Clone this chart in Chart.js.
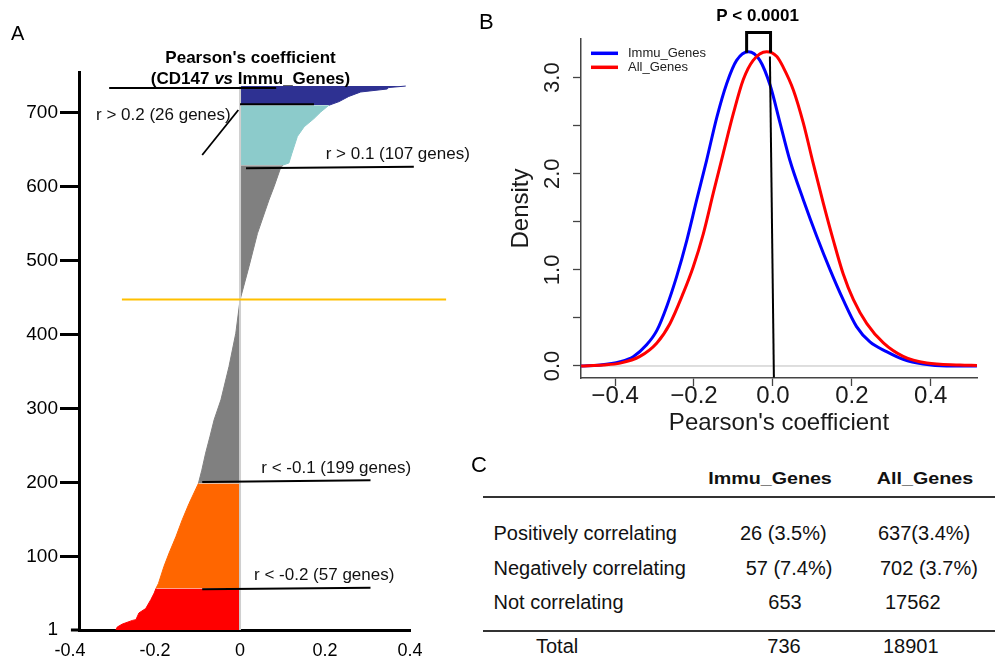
<!DOCTYPE html>
<html>
<head>
<meta charset="utf-8">
<script src="https://cdn.jsdelivr.net/npm/chart.js@4/dist/chart.umd.min.js"></script>
<style>
html,body{margin:0;padding:0;background:#fff;}
body{width:995px;height:662px;position:relative;overflow:hidden;font-family:"Liberation Sans",Arial,Helvetica,sans-serif;color:#000;}
.box{position:absolute;}
.plabel{position:absolute;line-height:1;white-space:nowrap;}
.t{position:absolute;white-space:nowrap;font-size:20px;line-height:20px;color:#111;}
.h{position:absolute;white-space:nowrap;font-size:16px;line-height:16px;font-weight:bold;color:#111;}
.rule{position:absolute;left:483px;width:512px;height:2.5px;background:#333;}
</style>
</head>
<body>
<div id="wa" class="box" style="left:0;top:0;width:480px;height:662px"><canvas id="ca"></canvas></div>
<div id="wb" class="box" style="left:470px;top:0;width:525px;height:440px"><canvas id="cb"></canvas></div>
<div class="plabel" style="left:11px;top:23px;font-size:20px">A</div>
<div class="plabel" style="left:479px;top:11px;font-size:22px">B</div>
<div class="plabel" style="left:471px;top:454px;font-size:22px">C</div>
<div id="tbl"></div>
<script>
// ---------------- Panel A data (rank of gene vs Pearson's coefficient) ----------------
const rankRed    = [1, 5, 9, 14, 15, 24, 30, 42, 51, 57];
const coefRed    = [-0.292, -0.289, -0.277, -0.253, -0.245, -0.238, -0.222, -0.210, -0.202, -0.198];
const rankOrange = [57, 64, 87, 105, 127, 150, 172, 199];
const coefOrange = [-0.198, -0.192, -0.179, -0.167, -0.151, -0.136, -0.120, -0.098];
const rankGray   = [199, 217, 240, 262, 285, 312, 357, 402, 447, 492, 537, 582, 600, 623, 629];
const coefGray   = [-0.098, -0.090, -0.081, -0.071, -0.061, -0.045, -0.026, -0.010, 0.000, 0.021, 0.041, 0.068, 0.080, 0.094, 0.100];
const rankCyan   = [629, 632, 645, 668, 681, 692, 701, 710];
const coefCyan   = [0.100, 0.115, 0.122, 0.135, 0.151, 0.174, 0.190, 0.209];
const rankNavy   = [710, 715, 722, 728, 732, 734, 736];
const coefNavy   = [0.209, 0.233, 0.256, 0.284, 0.346, 0.350, 0.390];
const yTickValuesA = [1, 100, 200, 300, 400, 500, 600, 700];
const xTickValuesA = [-0.4, -0.2, 0, 0.2, 0.4];
const xTickLabelsA = ['-0.4', '-0.2', '0', '0.2', '0.4'];
const titleA = ["Pearson's coefficient", '(CD147 ', 'vs', ' Immu_Genes)'];
const annoTextA = ['r > 0.2 (26 genes)', 'r > 0.1 (107 genes)', 'r < -0.1 (199 genes)', 'r < -0.2 (57 genes)'];

// ---------------- Panel B data (density curves) ----------------
const coefImmu = [-0.486, -0.438, -0.387, -0.354, -0.320, -0.294, -0.269, -0.244, -0.218, -0.193, -0.168, -0.142, -0.117, -0.092, -0.062, -0.033, -0.007, 0.018, 0.043, 0.077, 0.111, 0.145, 0.178, 0.212, 0.246, 0.288, 0.330, 0.381, 0.44, 0.517];
const densImmu = [0, 0.01, 0.045, 0.097, 0.22, 0.37, 0.62, 0.93, 1.31, 1.73, 2.14, 2.59, 2.94, 3.18, 3.27, 3.18, 2.92, 2.53, 2.14, 1.73, 1.35, 1.00, 0.69, 0.41, 0.25, 0.15, 0.07, 0.02, 0.0, 0];
const coefAll  = [-0.486, -0.43, -0.387, -0.337, -0.294, -0.261, -0.227, -0.202, -0.176, -0.151, -0.126, -0.100, -0.075, -0.050, -0.016, 0.010, 0.026, 0.052, 0.077, 0.102, 0.128, 0.153, 0.178, 0.204, 0.238, 0.280, 0.330, 0.390, 0.474, 0.517];
const densAll  = [0, 0.01, 0.03, 0.10, 0.24, 0.44, 0.76, 1.03, 1.38, 1.80, 2.21, 2.63, 2.98, 3.18, 3.27, 3.22, 3.11, 2.87, 2.53, 2.11, 1.69, 1.31, 0.96, 0.69, 0.44, 0.24, 0.10, 0.03, 0.01, 0.005];
const seriesNamesB = ['Immu_Genes', 'All_Genes'];
const xTickValuesB = [-0.4, -0.2, 0, 0.2, 0.4];
const xTickLabelsB = ['\u22120.4', '\u22120.2', '0.0', '0.2', '0.4'];
const yTickValuesB = [0, 0.5, 1, 1.5, 2, 2.5, 3];
const yTickLabelsB = ['0.0', '', '1.0', '', '2.0', '', '3.0'];
const pValueText = 'P < 0.0001';

// ---------------- Panel C data (table) ----------------
const tableColumns = ['Immu_Genes', 'All_Genes'];
const tableRows    = ['Positively correlating', 'Negatively correlating', 'Not correlating'];
const immuCounts   = ['26 (3.5%)', '57 (7.4%)', '653'];
const allCounts    = ['637(3.4%)', '702 (3.7%)', '17562'];
const totalRow     = ['Total', '736', '18901'];

const FONT = '"Liberation Sans", Arial, Helvetica, sans-serif';
Chart.defaults.font.family = FONT;
Chart.defaults.color = '#000';

function zip(xs, ys) { return xs.map((v, i) => ({x: ys[i], y: v})); }
function zipXY(xs, ys) { return xs.map((v, i) => ({x: v, y: ys[i]})); }
function setTicks(values) { return axis => { axis.ticks = values.map(v => ({value: v})); }; }

// ---------------- Panel A chart ----------------
function areaSet(ranks, coefs, color) {
  return {data: zip(ranks, coefs), backgroundColor: color, borderColor: color, borderWidth: 1,
          pointRadius: 0, fill: 'origin', tension: 0};
}
const annoA = {
  id: 'annoA',
  afterDatasetsDraw(chart) {
    const {ctx, scales: {x, y}} = chart;
    ctx.save();
    ctx.strokeStyle = '#cfcfcf'; ctx.lineWidth = 2;
    ctx.beginPath(); ctx.moveTo(x.getPixelForValue(0), y.getPixelForValue(1));
    ctx.lineTo(x.getPixelForValue(0), y.getPixelForValue(736)); ctx.stroke();
    ctx.restore();
  },
  afterDraw(chart) {
    const {ctx, chartArea: a, scales: {x, y}} = chart;
    const P = (r, k) => [x.getPixelForValue(r), y.getPixelForValue(k)];
    ctx.save();
    ctx.strokeStyle = '#000'; ctx.lineWidth = 3;
    ctx.beginPath(); ctx.moveTo(x.getPixelForValue(-0.398), a.bottom); ctx.lineTo(a.left, a.bottom); ctx.stroke();
    const seg = (r1, k1, r2, k2, color, w) => {
      const p1 = P(r1, k1), p2 = P(r2, k2);
      ctx.strokeStyle = color; ctx.lineWidth = w;
      ctx.beginPath(); ctx.moveTo(p1[0], p1[1]); ctx.lineTo(p2[0], p2[1]); ctx.stroke();
    };
    seg(-0.308, 733.4, 0.085, 733.4, '#000', 2);
    seg(0, 711.4, 0.174, 711.4, '#000', 2);
    seg(-0.089, 642.9, -0.004, 703.7, '#000', 1.8);
    seg(0.014, 625, 0.409, 627, '#000', 2);
    seg(-0.089, 201, 0.307, 203.3, '#000', 2);
    seg(-0.089, 56, 0.307, 58.2, '#000', 2);
    seg(-0.278, 447.6, 0.485, 447.6, '#FFC000', 2);
    ctx.fillStyle = '#111';
    ctx.font = '17px ' + FONT; ctx.textAlign = 'left'; ctx.textBaseline = 'alphabetic';
    const txt = (s, r, k) => { const p = P(r, k); ctx.fillText(s, p[0], p[1]); };
    txt(annoTextA[0], -0.339, 690.2);
    txt(annoTextA[1], 0.2016, 637.1);
    txt(annoTextA[2], 0.050, 212.8);
    txt(annoTextA[3], 0.033, 68.6);
    ctx.fillStyle = '#000';
    const c = P(0.0247, 767.7);
    ctx.font = 'bold 17px ' + FONT; ctx.textAlign = 'center';
    ctx.fillText(titleA[0], c[0], c[1]);
    const b2 = y.getPixelForValue(738.8);
    const fB = 'bold 17px ' + FONT, fBI = 'italic bold 17px ' + FONT;
    ctx.font = fB; const w1 = ctx.measureText(titleA[1]).width, w3 = ctx.measureText(titleA[3]).width;
    ctx.font = fBI; const w2 = ctx.measureText(titleA[2]).width;
    let sx = c[0] - (w1 + w2 + w3) / 2;
    ctx.textAlign = 'left';
    ctx.font = fB; ctx.fillText(titleA[1], sx, b2); sx += w1;
    ctx.font = fBI; ctx.fillText(titleA[2], sx, b2); sx += w2;
    ctx.font = fB; ctx.fillText(titleA[3], sx, b2);
    ctx.restore();
  }
};
new Chart(document.getElementById('ca'), {
  type: 'line',
  data: {datasets: [
    areaSet(rankRed, coefRed, '#FF0000'),
    areaSet(rankOrange, coefOrange, '#FF6600'),
    areaSet(rankGray, coefGray, '#808080'),
    areaSet(rankCyan, coefCyan, '#8CCBCB'),
    areaSet(rankNavy, coefNavy, '#2E3192')
  ]},
  options: {
    responsive: true, maintainAspectRatio: false, animation: false, indexAxis: 'y',
    layout: {padding: {left: 0, top: 72, right: 70, bottom: 0}},
    plugins: {legend: {display: false}, tooltip: {enabled: false}},
    scales: {
      x: {type: 'linear', position: 'bottom', min: -0.379, max: 0.4, z: 1,
          afterBuildTicks: setTicks(xTickValuesA), afterFit: s => { s.height = 32; },
          grid: {display: false, drawTicks: false},
          border: {display: true, color: '#000', width: 3},
          ticks: {autoSkip: false, maxRotation: 0, padding: 10, color: '#000', font: {size: 18},
                  callback: (v, i) => xTickLabelsA[i]}},
      y: {type: 'linear', position: 'left', min: 1, max: 755, z: 1,
          afterBuildTicks: setTicks(yTickValuesA), afterFit: s => { s.width = 79; },
          grid: {display: true, drawOnChartArea: false, drawTicks: true, tickLength: 19, tickWidth: 3,
                 tickColor: c => (c.tick && c.tick.value === 1) ? 'rgba(0,0,0,0)' : '#000'},
          border: {display: true, color: '#000', width: 3},
          ticks: {autoSkip: false, padding: 2, color: '#000', font: {size: 19}, callback: v => String(v)}}
    }
  },
  plugins: [annoA]
});

// ---------------- Panel B chart ----------------
const annoB = {
  id: 'annoB',
  beforeDatasetsDraw(chart) {
    const {ctx, chartArea: a, scales: {y}} = chart;
    ctx.save(); ctx.strokeStyle = '#bebebe'; ctx.lineWidth = 1;
    const py = y.getPixelForValue(0);
    ctx.beginPath(); ctx.moveTo(a.left, py); ctx.lineTo(a.right, py); ctx.stroke(); ctx.restore();
  },
  afterDraw(chart) {
    const {ctx, chartArea: a, scales: {x, y}} = chart;
    ctx.save();
    ctx.font = '13px ' + FONT; ctx.textAlign = 'left'; ctx.textBaseline = 'middle';
    chart.data.datasets.forEach((ds, i) => {
      const ly = a.top + 14.3 + i * 14;
      ctx.strokeStyle = ds.borderColor; ctx.lineWidth = 3.5;
      ctx.beginPath(); ctx.moveTo(a.left + 10, ly); ctx.lineTo(a.left + 37, ly); ctx.stroke();
      ctx.fillStyle = '#222'; ctx.fillText(ds.label, a.left + 47, ly + 0.5);
    });
    const xl = x.getPixelForValue(-0.0666), xr = x.getPixelForValue(-0.006);
    const yt = y.getPixelForValue(3.47), yb = y.getPixelForValue(3.26);
    ctx.strokeStyle = '#000'; ctx.lineWidth = 3; ctx.lineJoin = 'miter';
    ctx.beginPath(); ctx.moveTo(xl, yb); ctx.lineTo(xl, yt); ctx.lineTo(xr, yt); ctx.lineTo(xr, yb); ctx.stroke();
    ctx.lineWidth = 2;
    ctx.beginPath(); ctx.moveTo(x.getPixelForValue(-0.0076), y.getPixelForValue(3.22));
    ctx.lineTo(x.getPixelForValue(0.0025), y.getPixelForValue(-0.12)); ctx.stroke();
    ctx.fillStyle = '#000'; ctx.font = 'bold 17px ' + FONT; ctx.textAlign = 'center'; ctx.textBaseline = 'alphabetic';
    ctx.fillText(pValueText, (xl + xr) / 2 - 1, yt - 11);
    ctx.restore();
  }
};
new Chart(document.getElementById('cb'), {
  type: 'line',
  data: {datasets: [
    {label: seriesNamesB[0], data: zipXY(coefImmu, densImmu), borderColor: '#0000FF', backgroundColor: '#0000FF',
     borderWidth: 3, pointRadius: 0, cubicInterpolationMode: 'monotone', fill: false, order: 1},
    {label: seriesNamesB[1], data: zipXY(coefAll, densAll), borderColor: '#FF0000', backgroundColor: '#FF0000',
     borderWidth: 3, pointRadius: 0, cubicInterpolationMode: 'monotone', fill: false, order: 0}
  ]},
  options: {
    responsive: true, maintainAspectRatio: false, animation: false,
    layout: {padding: {left: 35, top: 39, right: 18, bottom: 0}},
    plugins: {legend: {display: false}, tooltip: {enabled: false}},
    scales: {
      x: {type: 'linear', min: -0.4863, max: 0.5172,
          afterBuildTicks: setTicks(xTickValuesB), afterFit: s => { s.height = 62; },
          grid: {display: true, drawOnChartArea: false, drawTicks: true, tickLength: 8, tickWidth: 1.3, tickColor: '#444'},
          border: {display: true, color: '#444', width: 1.5},
          ticks: {autoSkip: false, maxRotation: 0, padding: -2, color: '#1a1a1a', font: {size: 24, lineHeight: 1},
                  callback: (v, i) => xTickLabelsB[i]},
          title: {display: true, text: "Pearson's coefficient", color: '#1a1a1a', font: {size: 24}, padding: {top: 0, bottom: 2}}},
      y: {type: 'linear', min: -0.125, max: 3.402,
          afterBuildTicks: setTicks(yTickValuesB), afterFit: s => { s.width = 76; },
          grid: {display: true, drawOnChartArea: false, drawTicks: true, tickLength: 8, tickWidth: 1.3, tickColor: '#444'},
          border: {display: true, color: '#444', width: 1.5},
          ticks: {autoSkip: false, minRotation: 90, maxRotation: 90, crossAlign: 'center', padding: 5,
                  color: '#1a1a1a', font: {size: 22}, callback: (v, i) => yTickLabelsB[i]},
          title: {display: true, text: 'Density', color: '#1a1a1a', font: {size: 24}, padding: {top: 2, bottom: 0}}}
    }
  },
  plugins: [annoB]
});

// ---------------- Panel C table ----------------
const tbl = document.getElementById('tbl');
function put(cls, text, left, top, tf) {
  const d = document.createElement('div');
  d.className = cls; d.textContent = text;
  d.style.left = left + 'px'; d.style.top = top + 'px';
  if (tf) { d.style.transform = tf; d.style.transformOrigin = '50% 50%'; }
  tbl.appendChild(d);
  return d;
}
const rowTop = [523, 558, 591.5];
const col1Center = [783.3, 789, 785];
const col2Left = [878, 880, 885];
put('h', tableColumns[0], 770, 470.8, 'translateX(-50%) scaleX(1.23)');
put('h', tableColumns[1], 924.5, 470.8, 'translateX(-50%) scaleX(1.23)');
const r1 = document.createElement('div'); r1.className = 'rule'; r1.style.top = '495.5px'; tbl.appendChild(r1);
tableRows.forEach((name, i) => {
  put('t', name, 493.5, rowTop[i]);
  put('t', immuCounts[i], col1Center[i], rowTop[i], 'translateX(-50%)');
  put('t', allCounts[i], col2Left[i], rowTop[i]);
});
const r2 = document.createElement('div'); r2.className = 'rule'; r2.style.top = '629.5px'; tbl.appendChild(r2);
put('t', totalRow[0], 536, 636);
put('t', totalRow[1], 784, 636, 'translateX(-50%)');
put('t', totalRow[2], 883, 636);
</script>
</body>
</html>
